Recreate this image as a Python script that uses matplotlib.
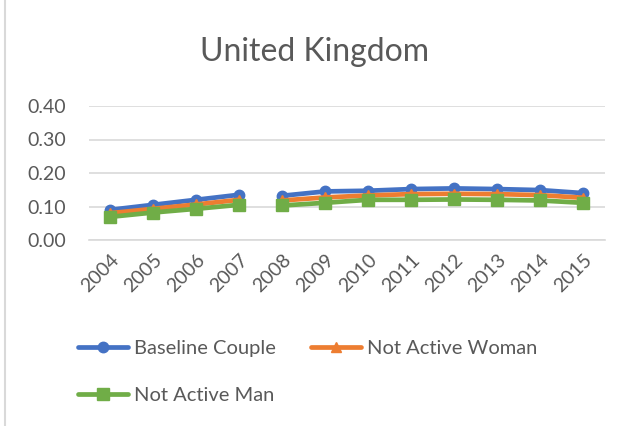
import numpy as np
import matplotlib.pyplot as plt
from matplotlib.lines import Line2D

plt.rcParams['font.family'] = ['Lato', 'DejaVu Sans']

# ── DATA ─────────────────────────────────────────────────────────────────────
years = ["2004", "2005", "2006", "2007", "2008", "2009",
         "2010", "2011", "2012", "2013", "2014", "2015"]
baseline_couple = [0.090, 0.105, 0.120, 0.135, 0.132, 0.145,
                   0.147, 0.152, 0.154, 0.152, 0.149, 0.140]
not_active_woman = [0.080, 0.093, 0.106, 0.120, 0.118, 0.127,
                    0.133, 0.137, 0.138, 0.137, 0.134, 0.126]
not_active_man = [0.069, 0.082, 0.093, 0.105, 0.103, 0.111,
                  0.120, 0.120, 0.121, 0.120, 0.118, 0.111]
yticks = [0.0, 0.1, 0.2, 0.3, 0.4]
break_after = 3  # series is not connected between 2007 and 2008

TEXT = "#595959"
GRID = "#d9d9d9"
series = [
    ("Baseline Couple", baseline_couple, "#4472C4", "o", 7.5),
    ("Not Active Woman", not_active_woman, "#ED7D31", "^", 6.5),
    ("Not Active Man", not_active_man, "#70AD47", "s", 8.5),
]

# ── PLOT ─────────────────────────────────────────────────────────────────────
fig = plt.figure(figsize=(6.29, 4.26), dpi=100)
ax = fig.add_axes([88.5 / 629, 186 / 426, 516 / 629, 134 / 426])

x = np.arange(len(years))
handles = []
for name, vals, color, marker, ms in series:
    vals = np.array(vals)
    for seg in (slice(0, break_after + 1), slice(break_after + 1, None)):
        ax.plot(x[seg], vals[seg], color=color, lw=3.4, marker=marker,
                markersize=ms, solid_capstyle="round", zorder=3)
    handles.append(Line2D([], [], color=color, lw=3.4, marker=marker,
                          markersize=ms, solid_capstyle="round", label=name))

ax.set_xlim(-0.5, len(years) - 0.5)
ax.set_ylim(0, 0.4)
ax.set_yticks(yticks)
ax.set_yticklabels([f"{v:.2f}" for v in yticks])
ax.set_xticks(x)
ax.set_xticklabels(years, rotation=45, ha="right", rotation_mode="anchor")
ax.grid(axis="y", color=GRID, lw=1.2)
ax.set_axisbelow(True)
for s in ["top", "right", "left"]:
    ax.spines[s].set_visible(False)
ax.spines["bottom"].set_color(GRID)
ax.spines["bottom"].set_linewidth(1.2)
ax.tick_params(axis="both", length=0, colors=TEXT, labelsize=14)
ax.tick_params(axis="y", pad=16)
ax.tick_params(axis="x", pad=8)

fig.text(0.5, 1 - 52 / 426, "United Kingdom", ha="center", va="center",
         fontsize=23, color=TEXT)

# legend fills row-wise in the reference: Baseline | Woman / Man
leg_order = [handles[0], handles[2], handles[1]]
leg = fig.legend(handles=leg_order, ncol=2, loc="upper left",
                 bbox_to_anchor=(78 / 629, 1 - 340 / 426), frameon=False,
                 fontsize=14.5, handlelength=2.5, handletextpad=0.3,
                 columnspacing=1.7, labelspacing=1.5, borderpad=0,
                 borderaxespad=0)
for t in leg.get_texts():
    t.set_color(TEXT)

# left edge of the chart frame
fig.add_artist(Line2D([5 / 629, 5 / 629], [0, 1], color=GRID, lw=1.5))

plt.savefig("out.png", dpi=100)
